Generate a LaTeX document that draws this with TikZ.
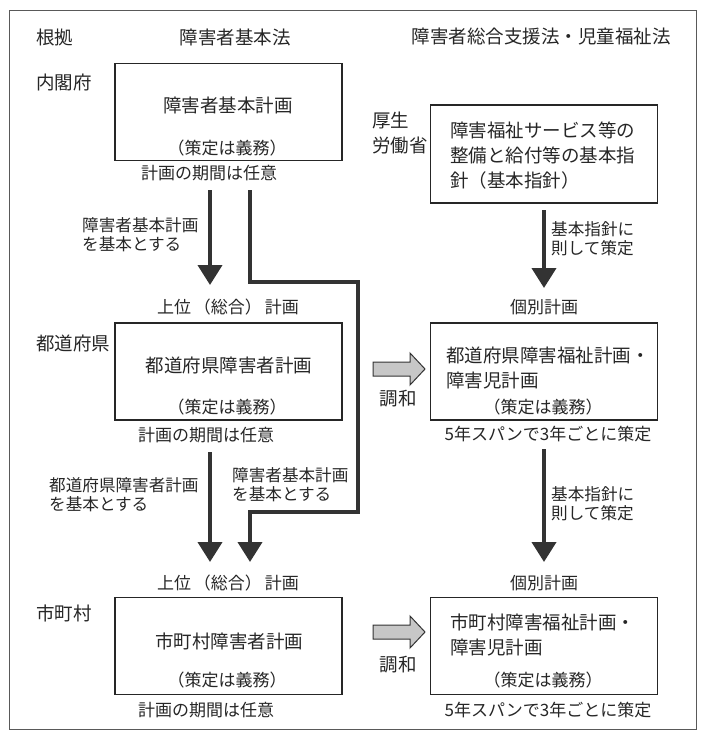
\documentclass[tikz,border=0pt]{standalone}
\usepackage{fontspec}
\setmainfont{Noto Sans CJK JP}
\usetikzlibrary{arrows.meta}
\def\boxw{227}
\def\boxh{97}
\def\lx{228.5}
\def\rx{544}
\def\ink{black!85}

\tikzset{
  planbox/.style={draw=\ink, line width=1.3pt, minimum width=\boxw pt, minimum height=\boxh pt, inner sep=0pt},
  big/.style={text=\ink, inner sep=0pt, font=\fontsize{18.5}{25}\selectfont},
  mid/.style={text=\ink, inner sep=0pt, font=\fontsize{17}{20}\selectfont},
  small/.style={text=\ink, inner sep=0pt, align=left, font=\fontsize{16.6}{19}\selectfont},
  flow/.style={draw=black!80, line width=4pt, -{Triangle[width=24pt,length=20pt]}},
  harmony/.style={draw=black!80, line width=1pt, fill=black!22, line join=miter}
}

\begin{document}
\begin{tikzpicture}[x=1pt,y=-1pt]
  \useasboundingbox (0,0) rectangle (704,740);
  % frame
  \draw[black!65, line width=1pt] (9,10) rectangle (696,729);

  % headings
  \node[big, anchor=west] (konkyo) at (36,37) {根拠};
  \node[big] (kihonho) at (235,37) {障害者基本法};
  \node[big] (sogoho) at (541,37) {障害者総合支援法・児童福祉法};

  % left side labels
  \node[big, anchor=west] (naikakufu) at (36,82) {内閣府};
  \node[big, anchor=west] (todofuken) at (36,343) {都道府県};
  \node[big, anchor=west] (shichoson) at (36,613) {市町村};
  \node[big, anchor=north west, align=left, font=\fontsize{18.5}{24.5}\selectfont] (kosei) at (372,112) {厚生\\労働省};

  % national plans
  \node[planbox] (kihonplan) at (\lx,112) {};
  \node[big] (kihonname) at (228,105) {障害者基本計画};
  \node[mid] (kihonduty) at (227,148) {（策定は義務）};
  \node[mid] (kihonterm) at (209,173) {計画の期間は任意};

  \node[planbox, minimum height=98pt] (shishin) at (\rx,154) {};
  \node[big, anchor=west, align=left] (shishinname) at (450,156) {障害福祉サービス等の\\整備と給付等の基本指\\針（基本指針）};

  % prefecture plans
  \node[mid] (joui2) at (228,307) {上位\hspace{3pt}（総合）\hspace{3pt}計画};
  \node[mid] (kobetsu2) at (\rx,307) {個別計画};
  \node[planbox] (kenplan) at (\lx,371.5) {};
  \node[big] (kenname) at (229,365) {都道府県障害者計画};
  \node[mid] (kenduty) at (227,407) {（策定は義務）};
  \node[mid] (kenterm) at (206,435) {計画の期間は任意};

  \node[planbox] (kenfukushi) at (\rx,371.5) {};
  \node[big, anchor=west, align=left] (kenfukushiname) at (446,368.5) {都道府県障害福祉計画・\\障害児計画};
  \node[mid] (kenfukushiduty) at (543,407) {（策定は義務）};
  \node[mid] (kenspan) at (548,434) {5年スパンで3年ごとに策定};

  % municipal plans
  \node[mid] (joui3) at (228,583) {上位\hspace{3pt}（総合）\hspace{3pt}計画};
  \node[mid] (kobetsu3) at (\rx,583) {個別計画};
  \node[planbox] (choplan) at (\lx,646) {};
  \node[big] (choname) at (229,641) {市町村障害者計画};
  \node[mid] (choduty) at (227,680) {（策定は義務）};
  \node[mid] (choterm) at (206,710) {計画の期間は任意};

  \node[planbox] (chofukushi) at (\rx,646) {};
  \node[big, anchor=west, align=left] (chofukushiname) at (450,635) {市町村障害福祉計画・\\障害児計画};
  \node[mid] (chofukushiduty) at (543,680) {（策定は義務）};
  \node[mid] (chospan) at (548,710) {5年スパンで3年ごとに策定};

  % arrow labels
  \node[small, anchor=north west] (basekihon1) at (82,217) {障害者基本計画\\を基本とする};
  \node[small, anchor=north west] (baseken) at (49,477) {都道府県障害者計画\\を基本とする};
  \node[small, anchor=north west] (basekihon2) at (232,467) {障害者基本計画\\を基本とする};
  \node[small, anchor=north west] (junkyo2) at (551,221) {基本指針に\\則して策定};
  \node[small, anchor=north west] (junkyo3) at (551,486) {基本指針に\\則して策定};
  \node[big] (chowa2) at (398,399) {調和};
  \node[big] (chowa3) at (398,665) {調和};

  % arrow ends
  \coordinate (a1s) at (210,190);
  \coordinate (a1e) at (210,285);
  \coordinate (a2s) at (210,452);
  \coordinate (a2e) at (210,562);
  \coordinate (l2s) at (250,190);
  \coordinate (bendA) at (358,282);
  \coordinate (bendB) at (358,512);
  \coordinate (l2e) at (250,562);
  \coordinate (r1s) at (\rx,210);
  \coordinate (r1e) at (\rx,288);
  \coordinate (r2s) at (\rx,449);
  \coordinate (r2e) at (\rx,562);

  % arrows
  \draw[flow] (a1s) -- (a1e);
  \draw[flow] (a2s) -- (a2e);
  \draw[flow, line join=miter] (l2s) |- (bendA) -- (bendB) -| (l2e);
  \draw[flow] (r1s) -- (r1e);
  \draw[flow] (r2s) -- (r2e);

  % harmony arrows
  \foreach \yy/\nm in {369/h2, 632/h3}{
    \draw[harmony, shift={(373,\yy)}] (0,-7) -- (37,-7) -- (37,-16) -- (52,0) -- (37,16) -- (37,7) -- (0,7) -- cycle;
  }
\end{tikzpicture}
\end{document}
